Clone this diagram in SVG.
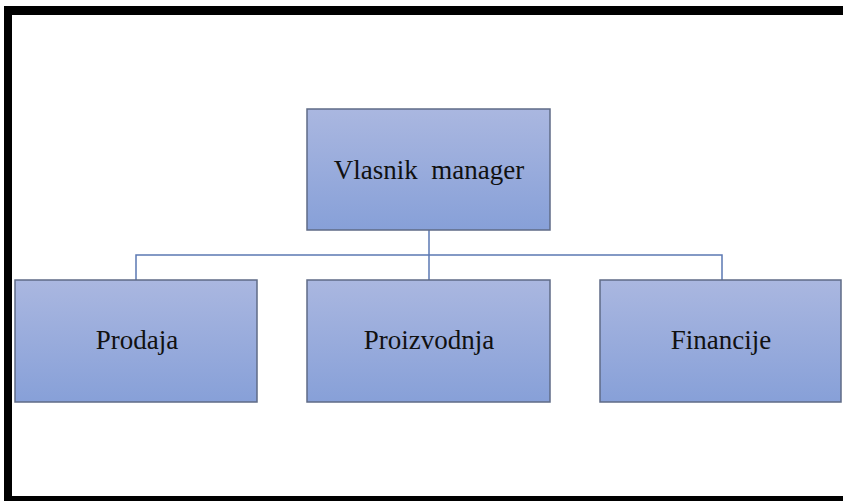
<svg xmlns="http://www.w3.org/2000/svg" width="843" height="501" viewBox="0 0 843 501">
  <defs>
    <linearGradient id="g" x1="0" y1="0" x2="0" y2="1">
      <stop offset="0" stop-color="#aab7e0"/>
      <stop offset="1" stop-color="#87a0d8"/>
    </linearGradient>
  </defs>
  <style>
    .box { fill: url(#g); stroke: #5f6b86; stroke-width: 1.5; }
    .lbl { font-family: "Liberation Serif", "Times New Roman", serif; font-size: 27px; fill: #111; text-anchor: middle; }
    .conn { fill: none; stroke: #5b78b3; stroke-width: 1.5; }
  </style>
  <rect x="0" y="0" width="843" height="501" fill="#fff"/>
  <g id="frame">
    <rect x="4" y="6" width="839" height="9" fill="#000"/>
    <rect x="4" y="6" width="8" height="495" fill="#000"/>
    <rect x="4" y="496" width="839" height="5" fill="#000"/>
  </g>
  <g id="connectors">
    <line class="conn" x1="429" y1="230" x2="429" y2="280"/>
    <polyline class="conn" points="136,280 136,255 722,255 722,280"/>
  </g>
  <g id="vlasnik">
    <rect class="box" x="307" y="109" width="243" height="121"/>
    <text class="lbl" x="429" y="179" xml:space="preserve">Vlasnik  manager</text>
  </g>
  <g id="prodaja">
    <rect class="box" x="15" y="280" width="242" height="122"/>
    <text class="lbl" x="137" y="349">Prodaja</text>
  </g>
  <g id="proizvodnja">
    <rect class="box" x="307" y="280" width="243" height="122"/>
    <text class="lbl" x="429" y="349">Proizvodnja</text>
  </g>
  <g id="financije">
    <rect class="box" x="600" y="280" width="241" height="122"/>
    <text class="lbl" x="721" y="349">Financije</text>
  </g>
</svg>
